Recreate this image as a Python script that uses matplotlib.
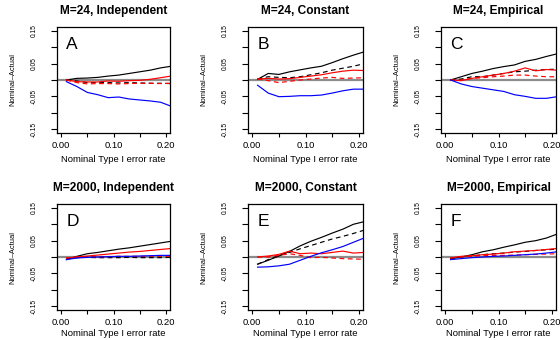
import matplotlib
matplotlib.use("Agg")
import matplotlib.pyplot as plt

plt.rcParams['font.family'] = ['Liberation Sans', 'DejaVu Sans']

x = [0.01, 0.03, 0.05, 0.07, 0.09, 0.11, 0.13, 0.15, 0.17, 0.19, 0.21]

titles = ["M=24, Independent", "M=24, Constant", "M=24, Empirical",
          "M=2000, Independent", "M=2000, Constant", "M=2000, Empirical"]
letters = ["A", "B", "C", "D", "E", "F"]

# each panel: black solid, black dashed, red solid, red dashed, blue solid
A_black = [0.0, 0.005, 0.006, 0.008, 0.012, 0.015, 0.020, 0.025, 0.030, 0.037, 0.042]
A_black_d = [0.0, -0.003, -0.008, -0.008, -0.008, -0.009, -0.008, -0.009, -0.010, -0.010, -0.011]
A_red = [0.0, -0.005, -0.006, -0.006, -0.003, -0.004, -0.002, -0.001, 0.002, 0.007, 0.012]
A_red_d = [0.0, -0.008, -0.012, -0.011, -0.011, -0.012, -0.011, -0.010, -0.010, -0.011, -0.010]
A_blue = [-0.005, -0.020, -0.038, -0.045, -0.054, -0.052, -0.058, -0.061, -0.064, -0.068, -0.080]

B_black = [0.002, 0.020, 0.017, 0.025, 0.031, 0.037, 0.042, 0.053, 0.065, 0.076, 0.086]
B_black_d = [0.003, 0.010, 0.008, 0.007, 0.010, 0.016, 0.022, 0.030, 0.036, 0.042, 0.050]
B_red = [0.003, 0.005, 0.003, 0.004, 0.008, 0.012, 0.016, 0.022, 0.027, 0.030, 0.029]
B_red_d = [0.003, -0.002, -0.008, -0.004, 0.000, 0.003, 0.006, 0.008, 0.005, 0.006, 0.007]
B_blue = [-0.016, -0.040, -0.051, -0.050, -0.048, -0.048, -0.046, -0.040, -0.033, -0.028, -0.028]

C_black = [0.0, 0.010, 0.020, 0.027, 0.035, 0.041, 0.046, 0.057, 0.063, 0.072, 0.080]
C_black_d = [0.0, 0.003, 0.010, 0.010, 0.015, 0.020, 0.025, 0.027, 0.030, 0.032, 0.033]
C_red = [0.0, -0.002, 0.005, 0.010, 0.015, 0.020, 0.027, 0.037, 0.028, 0.032, 0.030]
C_red_d = [0.0, 0.000, 0.005, 0.007, 0.010, 0.012, 0.015, 0.015, 0.012, 0.010, 0.010]
C_blue = [0.0, -0.012, -0.020, -0.025, -0.030, -0.035, -0.045, -0.050, -0.056, -0.056, -0.051]

D_black = [-0.008, 0.002, 0.010, 0.014, 0.019, 0.024, 0.028, 0.033, 0.038, 0.043, 0.048]
D_black_d = [-0.005, -0.002, -0.001, -0.002, -0.002, -0.002, -0.001, -0.002, -0.002, -0.002, -0.001]
D_red = [-0.003, 0.000, 0.003, 0.006, 0.009, 0.012, 0.015, 0.017, 0.020, 0.023, 0.026]
D_red_d = [-0.003, 0.000, 0.001, 0.001, 0.001, 0.002, 0.002, 0.002, 0.002, 0.002, 0.002]
D_blue = [-0.008, -0.003, -0.001, 0.000, 0.001, 0.002, 0.002, 0.003, 0.004, 0.005, 0.005]

E_black = [-0.022, -0.010, 0.003, 0.017, 0.034, 0.048, 0.060, 0.073, 0.085, 0.100, 0.108]
E_black_d = [-0.022, -0.008, 0.005, 0.014, 0.025, 0.035, 0.045, 0.055, 0.063, 0.072, 0.082]
E_red = [0.0, 0.003, 0.008, 0.018, 0.010, 0.012, 0.010, 0.014, 0.018, 0.012, 0.014]
E_red_d = [0.0, 0.000, 0.005, 0.010, 0.005, -0.002, -0.001, -0.003, -0.005, -0.006, -0.007]
E_blue = [-0.031, -0.030, -0.027, -0.022, -0.010, 0.002, 0.013, 0.022, 0.032, 0.045, 0.058]

F_black = [-0.005, 0.000, 0.007, 0.016, 0.022, 0.030, 0.037, 0.045, 0.050, 0.058, 0.070]
F_black_d = [-0.005, 0.000, 0.003, 0.007, 0.010, 0.012, 0.015, 0.017, 0.020, 0.022, 0.024]
F_red = [-0.003, 0.002, 0.004, 0.007, 0.009, 0.012, 0.016, 0.018, 0.020, 0.023, 0.026]
F_red_d = [-0.003, 0.000, 0.002, 0.004, 0.005, 0.005, 0.006, 0.007, 0.008, 0.009, 0.010]
F_blue = [-0.008, -0.005, -0.002, 0.000, 0.002, 0.003, 0.005, 0.007, 0.009, 0.012, 0.016]

panels = [
    (A_black, A_black_d, A_red, A_red_d, A_blue),
    (B_black, B_black_d, B_red, B_red_d, B_blue),
    (C_black, C_black_d, C_red, C_red_d, C_blue),
    (D_black, D_black_d, D_red, D_red_d, D_blue),
    (E_black, E_black_d, E_red, E_red_d, E_blue),
    (F_black, F_black_d, F_red, F_red_d, F_blue),
]

W, H = 560, 340
fig = plt.figure(figsize=(W / 100, H / 100), dpi=100)

col_left = [57, 248, 441]
col_w = [113, 115, 115]
row_top = [27, 204]
row_h = 106

yticks = [-0.15, -0.10, -0.05, 0.0, 0.05, 0.10, 0.15]
ylabels_txt = ["-0.15", "", "-0.05", "", "0.05", "", "0.15"]
xticks = [0.0, 0.05, 0.10, 0.15, 0.20]
xlabels_txt = ["0.00", "", "0.10", "", "0.20"]

styles = [("black", "-"), ("black", (0, (4, 3))), ("red", "-"), ("red", (0, (4, 3))), ("blue", "-")]

for i in range(6):
    r, c = divmod(i, 3)
    l = col_left[c]
    t = row_top[r]
    w = col_w[c]
    ax = fig.add_axes([l / W, 1 - (t + row_h) / H, w / W, row_h / H])
    ax.set_xlim(-0.008, 0.208)
    ax.set_ylim(-0.162, 0.162)
    ax.axhline(0, color="#8c8c8c", lw=1.6, zorder=1)
    for series, (col, ls) in zip(panels[i], styles):
        ax.plot(x, series, color=col, linestyle=ls, lw=0.85, zorder=2)
    ax.set_yticks(yticks)
    ax.set_yticklabels(ylabels_txt, rotation=90, va="center", fontsize=4.8)
    ax.set_xticks(xticks)
    ax.set_xticklabels(xlabels_txt, fontsize=6.8)
    ax.tick_params(axis="y", length=4, width=0.8, pad=10)
    ax.tick_params(axis="x", length=3, width=0.8, pad=3)
    for s in ax.spines.values():
        s.set_linewidth(0.9)
    ax.text(0.01, 0.11, letters[i], fontsize=12.5, ha="left", va="center")
    cx = (l + w / 2) / W
    fig.text(cx, 1 - (t - 16) / H, titles[i], ha="center", va="center",
             fontsize=8.6, fontweight="bold")
    ylab = min(t + row_h + 27, 334)
    fig.text(cx, 1 - ylab / H, "Nominal Type I error rate",
             ha="center", va="center", fontsize=6.8)
    fig.text((l - 44) / W, 1 - (t + row_h / 2) / H, "Nominal\u2013Actual",
             ha="center", va="center", rotation=90, fontsize=5.4)

fig.savefig("out.png", dpi=100)
